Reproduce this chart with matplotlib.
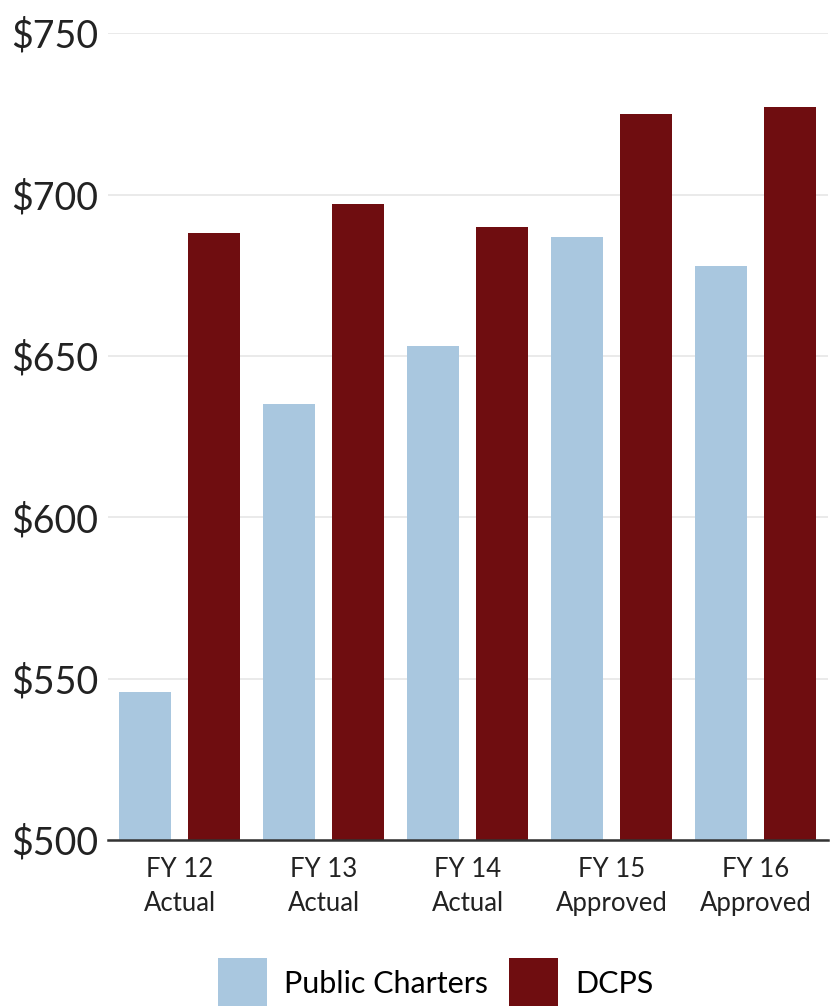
import numpy as np
import matplotlib
matplotlib.use('Agg')
import matplotlib.pyplot as plt

# per-pupil values
years = ['FY 12\nActual', 'FY 13\nActual', 'FY 14\nActual', 'FY 15\nApproved', 'FY 16\nApproved']
public_charters = [546, 635, 653, 687, 678]
dcps = [688, 697, 690, 725, 727]
y_ticks = [500, 550, 600, 650, 700, 750]

narrow = ['Lato', 'DejaVu Sans']
regular = ['Lato', 'DejaVu Sans']

fig = plt.figure(figsize=(8.33, 10.06), dpi=100)
ax = fig.add_axes([0.1297, 0.165, 0.8643, 0.802])

x = np.arange(len(years))
w = 0.355
ax.bar(x - 0.243, public_charters, w, color='#a9c7df', label='Public Charters', zorder=2)
ax.bar(x + 0.236, dcps, w, color='#6f0d10', label='DCPS', zorder=2)

ax.set_xlim(-0.5, len(years) - 0.5)
ax.set_ylim(500, 750)
ax.set_yticks(y_ticks)
ax.set_yticklabels(['$%d' % v for v in y_ticks], family=narrow, fontsize=27, color='#222222')
ax.set_xticks(x)
ax.set_xticklabels(years, family=narrow, fontsize=18.5, color='#222222', linespacing=1.45)
ax.tick_params(axis='y', length=0, pad=7)
ax.tick_params(axis='x', length=0, pad=12)
ax.grid(axis='y', color='#e6e6e6', linewidth=1.2, zorder=0)
for s in ['top', 'right', 'left']:
    ax.spines[s].set_visible(False)
ax.spines['bottom'].set_color('#333333')
ax.spines['bottom'].set_linewidth(1.8)
ax.spines['bottom'].set_zorder(3)

fig.legend(loc='upper left', bbox_to_anchor=(0.2617, 0.0477), ncol=2, frameon=False,
           borderpad=0, borderaxespad=0,
           handlelength=1.6, handleheight=2.2, handletextpad=0.55, columnspacing=0.7,
           prop={'family': regular, 'size': 22})

plt.savefig('out.png', dpi=100)
